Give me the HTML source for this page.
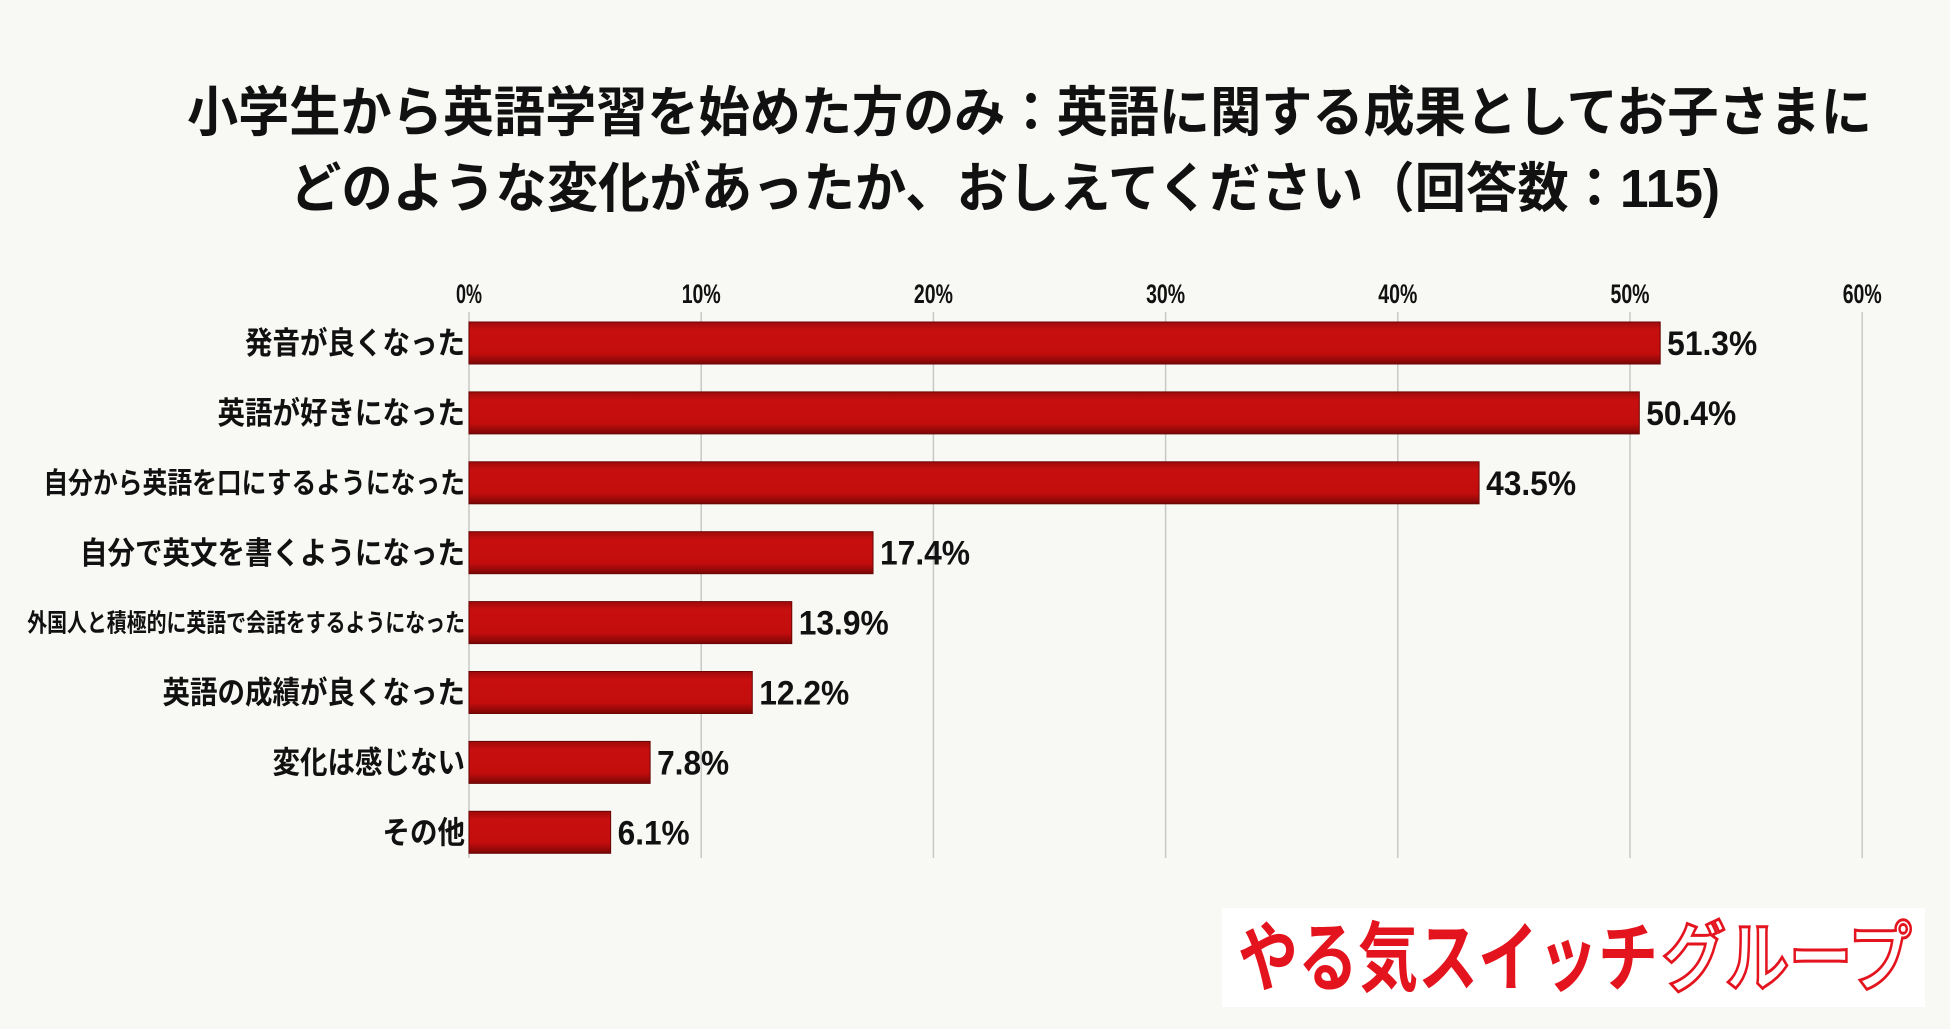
<!DOCTYPE html>
<html><head><meta charset="utf-8">
<style>
html,body{margin:0;padding:0;background:#f8f8f4;}
svg{display:block;font-family:"Liberation Sans","Noto Sans CJK JP",sans-serif;}
</style></head>
<body>
<svg id="chart" width="1950" height="1029" viewBox="0 0 1950 1029" xmlns="http://www.w3.org/2000/svg">
<defs>
<linearGradient id="barGrad" x1="0" y1="0" x2="0" y2="1">
<stop offset="0" stop-color="#9e0a0a"/>
<stop offset="0.2" stop-color="#c80f0f"/>
<stop offset="0.75" stop-color="#c30d0d"/>
<stop offset="1" stop-color="#7a0606"/>
</linearGradient>
</defs>
<rect x="0" y="0" width="1950" height="1029" fill="#f8f8f4"/>
<text x="187" y="131" font-size="54" font-weight="bold" fill="#111" textLength="1685" lengthAdjust="spacingAndGlyphs">小学生から英語学習を始めた方のみ：英語に関する成果としてお子さまに</text>
<text x="290" y="207" font-size="54" font-weight="bold" fill="#111" textLength="1430" lengthAdjust="spacingAndGlyphs">どのような変化があったか、おしえてください（回答数：115)</text>
<g id="grid"></g>
<g id="bars"></g>
<g>
<rect x="1222" y="908" width="703" height="99" fill="#ffffff"/>
<text x="1238" y="985" font-size="76" font-weight="bold" fill="#e4141e" textLength="420" lengthAdjust="spacingAndGlyphs">やる気スイッチ</text>
<text x="1662" y="985" font-size="76" font-weight="bold" fill="#ffffff" stroke="#e4141e" stroke-width="3" textLength="250" lengthAdjust="spacingAndGlyphs">グループ</text>
</g>
</svg>
<script>
const categories = ["発音が良くなった","英語が好きになった","自分から英語を口にするようになった","自分で英文を書くようになった","外国人と積極的に英語で会話をするようになった","英語の成績が良くなった","変化は感じない","その他"];
const values = [51.3, 50.4, 43.5, 17.4, 13.9, 12.2, 7.8, 6.1];
const ticks = [0, 10, 20, 30, 40, 50, 60];
const tickLabels = ["0%","10%","20%","30%","40%","50%","60%"];

const NS = "http://www.w3.org/2000/svg";
const x0 = 469, pxPer = 23.22;
const xScale = v => x0 + v * pxPer;
const yTop = 322, pitch = 69.9, barH = 42;
const yScale = i => yTop + i * pitch;
const grid = document.getElementById('grid');
const bars = document.getElementById('bars');

function mk(tag, attrs, parent){ const e=document.createElementNS(NS,tag); for(const k in attrs) e.setAttribute(k,attrs[k]); parent.appendChild(e); return e; }

ticks.forEach((t,i)=>{
  const ln = mk('line',{x1:xScale(t),x2:xScale(t),y1:312,y2:858,stroke:'#c8c8c4','stroke-width':1.5},grid);
  
  
  const tx = mk('text',{x:xScale(t),y:303,'font-size':27,'font-weight':'bold','text-anchor':'middle',fill:'#111'},grid);
  
  
  tx.setAttribute('textLength', tickLabels[i].length*13);
  tx.setAttribute('lengthAdjust','spacingAndGlyphs');
  tx.textContent = tickLabels[i];
});

categories.forEach((c,i)=>{
  const y = yScale(i);
  const r = mk('rect',{x:x0,y:y,width:xScale(values[i])-x0,height:barH,fill:'url(#barGrad)',stroke:'#6a0505','stroke-width':1},bars);
  
  
  const n = c.length;
  const charW = n<=14 ? 27.5 : (n<=17 ? 24.8 : 19.9);
  const fs = n<=14 ? 31 : (n<=17 ? 29 : 25);
  const lb = mk('text',{x:x0-4,y:y+barH/2+fs*0.36,'font-size':fs,'font-weight':'bold','text-anchor':'end',fill:'#111'},bars);
  
  
  lb.setAttribute('textLength', n*charW);
  lb.setAttribute('lengthAdjust','spacingAndGlyphs');
  lb.textContent = c;
  const s = values[i].toFixed(1)+'%';
  const vl = mk('text',{x:xScale(values[i])+7,y:y+barH/2+12,'font-size':34,'font-weight':'bold',fill:'#111'},bars);
  
  
  vl.setAttribute('textLength', s.length*18);
  vl.setAttribute('lengthAdjust','spacingAndGlyphs');
  vl.textContent = s;
});
</script>
</body></html>
